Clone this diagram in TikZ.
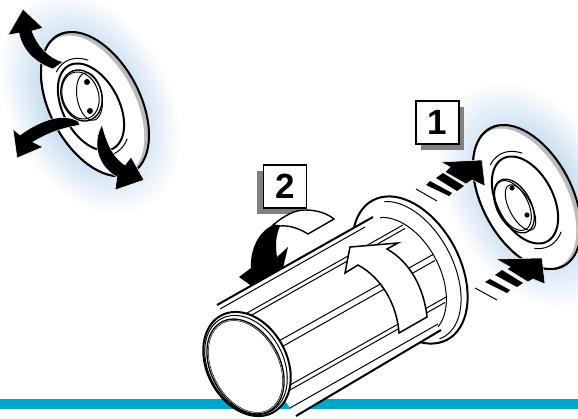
\documentclass[tikz,border=0pt]{standalone}
\usepackage{fontspec}
\setmainfont{Liberation Sans}
\definecolor{glowblue}{HTML}{C8DDF1}
\definecolor{barblue}{HTML}{00A5C8}
\definecolor{rimgrey}{HTML}{BBBBBB}
\definecolor{shadowgrey}{HTML}{808080}
\newcommand\ELL[5]{plot[domain=0:355,samples=72] ({#1+#3*cos(\x)*cos(#5)-#4*sin(\x)*sin(#5)},{#2+#3*cos(\x)*sin(#5)+#4*sin(\x)*cos(#5)}) -- cycle}
\newcommand\ARC[7]{plot[domain=#6:#7,samples=40] ({#1+#3*cos(\x)*cos(#5)-#4*sin(\x)*sin(#5)},{#2+#3*cos(\x)*sin(#5)+#4*sin(\x)*cos(#5)})}
\tikzset{
  thickline/.style={line width=2pt,draw=black,line join=round},
  thinline/.style={line width=1pt,draw=black},
  blackarrow/.style={fill=black,draw=white,line width=0.5pt,line join=miter},
  stripe/.style={fill=black},
  numbox/.style={draw=black,line width=1.5pt,fill=white,minimum width=43pt,minimum height=43pt,inner sep=0pt,font=\fontsize{35}{35}\selectfont\bfseries},
  whitearrow/.style={fill=white,draw=black,line width=1.5pt,line join=miter},
}
\newcommand\GLOW[4]{\foreach \s in {0,...,29}{%
  \pgfmathsetmacro\ra{#3*(1.0-0.6*\s/29)}%
  \pgfmathsetmacro\rb{#4*(1.0-0.6*\s/29)}%
  \pgfmathsetmacro\mx{100*min(1,(\s+1)/24)}%
  \fill[glowblue!\mx!white] \ELL{#1}{#2}{\ra}{\rb}{62};}}
\begin{document}
\begin{tikzpicture}[x=1pt,y=-1pt]
\useasboundingbox (0,0) rectangle (578,418);
\clip (0,0) rectangle (578,418);
\fill[white] (0,0) rectangle (578,418);
% glows
\GLOW{90}{103}{118}{80}
\GLOW{530}{195}{120}{80}
% bar
\fill[barblue] (0,398.5) rectangle (578,408.5);
% left disc
\fill[rimgrey] \ELL{95}{104}{78}{45}{62};
\draw[thickline] \ELL{95}{104}{78}{45}{62};
\fill[white] \ELL{92.5}{105.5}{76}{42.5}{62};
\draw[thickline] \ARC{95}{104}{78}{45}{62}{0}{190};
\draw[thickline] \ELL{91}{107}{47}{28}{62};
\draw[thinline] \ARC{91}{107}{52}{34}{62}{155}{215};
\draw[thinline] \ARC{91}{107}{52}{34}{62}{-30}{25};
\filldraw[fill=white,thickline,line width=1.4pt] \ELL{81.5}{95.5}{26}{20}{72};
\draw[thinline] \ELL{80.5}{95.5}{24}{18}{72};
\draw[thinline] \ELL{89.5}{96.5}{24}{12.5}{80};
\fill (87,82) circle (3); \fill (90,111) circle (3);
% left arrows
\path[blackarrow] (63,62) .. controls (48,58) and (37,45) .. (32,31) -- (43,28) -- (23,9) -- (8,35) -- (19,33) .. controls (22,50) and (35,63) .. (53,69) -- cycle;
\path[blackarrow] (78,121) .. controls (60,112) and (38,122) .. (20,135) -- (13,129) -- (17,158) -- (43,147) -- (33,142) .. controls (48,133) and (62,128) .. (80,125) -- cycle;
\path[blackarrow] (102,125) .. controls (93,140) and (95,165) .. (117,177) -- (115,190) -- (144,180) -- (131,157) -- (125,165) .. controls (112,157) and (106,140) .. (102,125) -- cycle;
% right disc
\fill[rimgrey] \ELL{527}{197}{78}{45}{62};
\draw[thickline] \ELL{527}{197}{78}{45}{62};
\fill[white] \ELL{524.5}{198.5}{76}{42.5}{62};
\draw[thickline] \ARC{527}{197}{78}{45}{62}{0}{190};
\draw[thickline] \ELL{525}{200}{47}{28}{62};
\draw[thinline] \ARC{525}{200}{52}{34}{62}{155}{215};
\draw[thinline] \ARC{525}{200}{52}{34}{62}{-30}{25};
\draw[thinline,line width=1.3pt] \ELL{514}{206}{29}{17}{62};
\draw[thinline] \ELL{513}{205.5}{27}{15}{62};
\draw[thinline] \ELL{520.5}{207.5}{25}{11}{62};
\fill (512,188) circle (2.6); \fill (527,215) circle (2.6);
% right arrows
\path[blackarrow] (441,162) -- (482,160) -- (485,186) -- (472,180) -- (466,184) -- (445,172) -- (450,167) -- cycle;
\fill[stripe] (436,178) -- (443,173) -- (464,186) -- (457,191) -- cycle;
\fill[stripe] (426,185) -- (430,181) -- (452,193) -- (449,196) -- cycle;
\draw[thinline] (416,189) -- (437,201);
\path[blackarrow] (496,259) -- (542,258) -- (545,284) -- (533,279) -- (528,282) -- (507,269) -- (510,267) -- cycle;
\fill[stripe] (495,275) -- (502,270) -- (523,283) -- (517,287) -- cycle;
\fill[stripe] (485,282) -- (490,279) -- (510,290) -- (507,293) -- cycle;
\draw[thinline] (475,288) -- (497,300);
% number boxes
\fill[shadowgrey] (421,107) rectangle (464,150);
\node[numbox] (box1) at (437.5,122.5) {1};
\fill[shadowgrey] (257,171) rectangle (301,214);
\node[numbox] (box2) at (285,186.5) {2};
% turning arrow
\path[whitearrow,line width=1.4pt] (273,225) .. controls (285,215) and (295,210) .. (305,210) .. controls (318,210) and (328,214) .. (334,219) -- (308,234) .. controls (300,229) and (290,225) .. (280,226) -- cycle;
\fill (273,225) .. controls (258,232) and (250,250) .. (251,268) -- (239,277) -- (253,287) -- (283,268) -- (288,247) -- (277,257) .. controls (275,245) and (276,235) .. (280,226) -- cycle;
% flange
\filldraw[fill=white,thickline] \ELL{410}{270}{79}{50}{62};
\draw[thinline] \ARC{408}{271}{75}{45}{62}{195}{365};
% body
\fill[white] (217,305) -- (373,217) -- (441,330) -- (296,416) -- cycle;
\draw[thinline] \ARC{400}{277}{64}{40}{62}{195}{345};
\draw[thickline] (217,305) -- (373,217);
\draw[thinline] (220,309) -- (365,227);
\draw[thinline] (247,313) -- (403,225);
\draw[thinline] (250,316) -- (405,228.5);
\draw[thinline] (277,342) -- (433,254.5);
\draw[thinline] (278,349) -- (435,260.5);
\draw[thinline] (290,385) -- (447,296.5);
\draw[thinline] (290,390) -- (445,302.5);
\draw[thinline] (290,408) -- (438,324);
\draw[thickline] (296,416) -- (441,330);
% rim
\filldraw[fill=white,thickline] \ELL{247}{364}{55}{40}{62};
\draw[thinline] \ELL{246}{365}{52.5}{37.5}{62};
\filldraw[fill=white,thinline,line width=1.3pt] \ELL{245.5}{366.5}{50.5}{34.5}{62};
\draw[thinline,line width=0.5pt] \ELL{245.5}{366.5}{49}{33}{62};
% white arrow
\path[whitearrow] (345,273) -- (350,247) -- (398,243) -- (387,249) .. controls (410,262) and (424,288) .. (427,317) -- (399,333) .. controls (397,305) and (382,278) .. (358,265) -- cycle;
\end{tikzpicture}
\end{document}
